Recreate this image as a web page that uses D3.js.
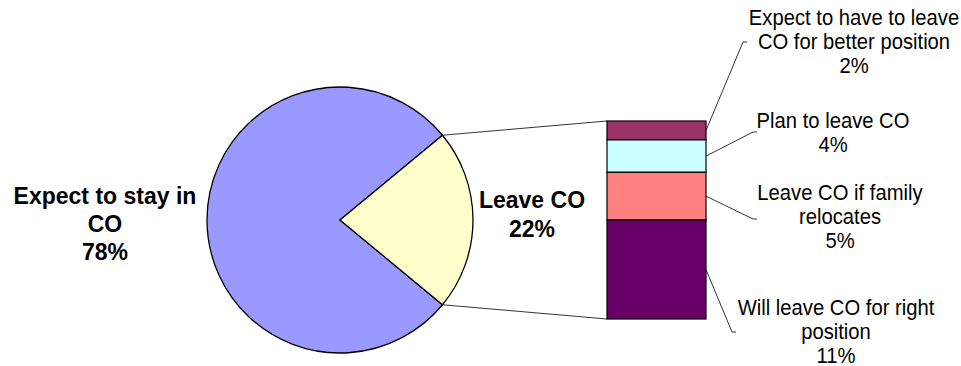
<!DOCTYPE html>
<html>
<head>
<meta charset="utf-8">
<script src="https://cdn.jsdelivr.net/npm/d3@7"></script>
<style>
  html, body { margin: 0; padding: 0; background: #fff; }
  svg { display: block; font-family: "Liberation Sans", Arial, sans-serif; }
</style>
</head>
<body>
<svg id="chart" width="961" height="366"></svg>
<script>
// ---- data ----
const pieCategories = ["Expect to stay in CO", "Leave CO"];
const pieValues = [78, 22];
const pieLabelLines = [["Expect to stay in", "CO", "78%"], ["Leave CO", "22%"]];
const pieColors = ["#9999FF", "#FFFFCC"];

// breakdown of "Leave CO" (top to bottom as shown)
const barCategories = [
  "Expect to have to leave CO for better position",
  "Plan to leave CO",
  "Leave CO if family relocates",
  "Will leave CO for right position"
];
const barValues = [2.1, 3.6, 5.3, 11.0];
const barLabelLines = [
  ["Expect to have to leave", "CO for better position", "2%"],
  ["Plan to leave CO", "4%"],
  ["Leave CO if family", "relocates", "5%"],
  ["Will leave CO for right", "position", "11%"]
];
const barColors = ["#993366", "#CCFFFF", "#FF8080", "#660066"];

// ---- layout ----
const svg = d3.select("#chart");
const cx = 340, cy = 220, r = 133;
const barX0 = 607, barX1 = 706, barTop = 121, barBottom = 319;

// pie
const total = d3.sum(pieValues);
const leaveFrac = pieValues[1] / total;
const pie = d3.pie().sort(null)
  .startAngle(Math.PI / 2 + leaveFrac * Math.PI)
  .endAngle(Math.PI / 2 + leaveFrac * Math.PI + 2 * Math.PI);
const arcs = pie(pieValues);
const arc = d3.arc().innerRadius(0).outerRadius(r);

const g = svg.append("g").attr("transform", `translate(${cx},${cy})`);
g.selectAll("path").data(arcs).enter().append("path")
  .attr("d", arc)
  .attr("fill", (d, i) => pieColors[i])
  .attr("stroke", "#000")
  .attr("stroke-width", 1.3);

// bar (stacked from bottom)
const barTotal = d3.sum(barValues);
const y = d3.scaleLinear().domain([0, barTotal]).range([barBottom, barTop]);
const order = barValues.map((v, i) => i).reverse(); // bottom first
let acc = 0;
const segs = [];
order.forEach(i => {
  segs[i] = { y0: acc, y1: acc + barValues[i] };
  acc += barValues[i];
});

// connector lines from pie slice to bar
const leaveArc = arcs[1];
function pt(a) { return [cx + r * Math.sin(a), cy - r * Math.cos(a)]; }
const pTop = pt(leaveArc.startAngle);
const pBot = pt(leaveArc.endAngle);
svg.append("line").attr("x1", pTop[0]).attr("y1", pTop[1]).attr("x2", barX0).attr("y2", y(barTotal))
  .attr("stroke", "#000").attr("stroke-width", 0.8);
svg.append("line").attr("x1", pBot[0]).attr("y1", pBot[1]).attr("x2", barX0).attr("y2", y(0))
  .attr("stroke", "#000").attr("stroke-width", 0.8);

svg.append("g").selectAll("rect").data(barValues).enter().append("rect")
  .attr("x", barX0)
  .attr("width", barX1 - barX0)
  .attr("y", (d, i) => y(segs[i].y1))
  .attr("height", (d, i) => y(segs[i].y0) - y(segs[i].y1))
  .attr("fill", (d, i) => barColors[i])
  .attr("stroke", "#000")
  .attr("stroke-width", 1.2);

// pie labels
const pieLabelPos = [[105, 204, 28], [532, 208, 29]];
pieLabelLines.forEach((lines, i) => {
  const t = svg.append("text")
    .attr("text-anchor", "middle")
    .attr("font-weight", "bold")
    .attr("font-size", 23)
    .attr("fill", "#000");
  lines.forEach((s, k) => {
    t.append("tspan").attr("x", pieLabelPos[i][0]).attr("y", pieLabelPos[i][1] + k * pieLabelPos[i][2]).text(s);
  });
});

// bar labels with leader lines
const barLabelPos = [[854, 25], [833, 128], [840, 200], [836, 315]];
const leaderEnds = [[743, 42, 747], [753, 132, 757], [753, 219, 757], [732, 332, 736]];
barValues.forEach((v, i) => {
  const t = svg.append("text")
    .attr("text-anchor", "middle")
    .attr("font-size", 22)
    .attr("fill", "#000")
    .attr("transform", `translate(${barLabelPos[i][0]},0) scale(0.92,1)`);
  barLabelLines[i].forEach((s, k) => {
    t.append("tspan").attr("x", 0).attr("y", barLabelPos[i][1] + k * 23.8).text(s);
  });
  const midY = y((segs[i].y0 + segs[i].y1) / 2);
  const e = leaderEnds[i];
  svg.append("polyline")
    .attr("points", `${barX1},${midY} ${e[0]},${e[1]} ${e[2]},${e[1]}`)
    .attr("fill", "none")
    .attr("stroke", "#000")
    .attr("stroke-width", 0.8);
});
</script>
</body>
</html>
